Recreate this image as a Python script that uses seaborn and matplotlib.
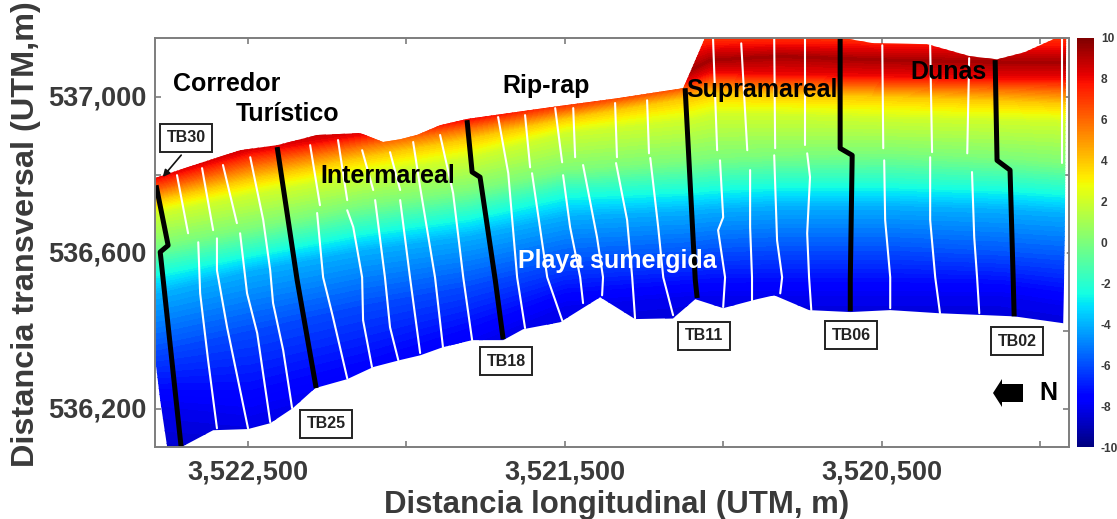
"""
Beach elevation map with survey transects (seaborn + matplotlib)
"""

import numpy as np
import pandas as pd
import seaborn as sns
import matplotlib.pyplot as plt
from matplotlib.cm import ScalarMappable
from matplotlib.colors import Normalize
from matplotlib.patches import Polygon, FancyArrow
from matplotlib.transforms import ScaledTranslation

sns.set_theme(style="white")
plt.rcParams["font.family"] = ["Liberation Sans", "DejaVu Sans"]
plt.rcParams["font.weight"] = "bold"
plt.rcParams["axes.unicode_minus"] = False

# ====================================================================================================================
# Data: everything in metres, as offsets from these UTM origins
# ====================================================================================================================

X0 = 3520000
Y0 = 536000

# survey limit
outline_x = [2795, 2650, 2524, 2407, 2281, 2145, 2073, 2019, 1966, 1893, 1808, 1546, 1335, 1126, 1057, 631, 524, 357,
             221, 136, 50, -54, -82, -76, 82, 319, 473, 599, 729, 839, 893, 1000, 1088, 1158, 1278, 1388, 1514, 1631,
             1694, 1792, 1884, 1956, 2019, 2104, 2186, 2287, 2357, 2429, 2499, 2609, 2704, 2754, 2776, 2795]
outline_y = [792, 831, 864, 877, 903, 908, 885, 892, 903, 928, 944, 974, 997, 1023, 1153, 1153, 1138, 1136,
             1105, 1097, 1115, 1153, 1153, 420, 438, 446, 454, 449, 454, 492, 482, 459, 482, 433, 431, 487, 423, 405,
             377, 377, 359, 338, 326, 308, 277, 254, 203, 164, 149, 146, 105, 103, 223, 351]

# alongshore stations where the elevation lines were read
station_x = [2792, 2493, 2145, 1800, 1500, 1104, 1041, 820, 473, 126, -79]

# northing of each elevation line at the stations, from landward to seaward
line_elevation = [7, 9.3, 8, 6, 4, 2, 0, -2, -4, -6, -8, -10]
line_top = [1153, 1153, 1153, 1153, 1153, 1153, 1153, 1153, 1153, 1153, 1153]
line_crest = [826, 890, 941, 979, 1023, 1069, 1095, 1105, 1095, 1090, 1090]
line_p8 = [792, 859, 903, 946, 992, 1044, 1064, 1059, 1054, 1049, 1049]
line_p6 = [762, 826, 877, 923, 967, 1023, 1038, 1033, 1028, 1023, 1018]
line_p4 = [736, 792, 846, 895, 946, 1000, 1013, 1008, 1002, 992, 985]
line_p2 = [700, 749, 800, 844, 908, 941, 954, 954, 946, 941, 936]
line_0 = [620, 664, 723, 762, 813, 838, 844, 851, 856, 844, 831]
line_m2 = [562, 608, 664, 705, 762, 774, 779, 787, 787, 779, 769]
line_m4 = [497, 556, 608, 646, 697, 710, 715, 723, 723, 715, 705]
line_m6 = [351, 403, 467, 518, 577, 595, 603, 608, 608, 595, 582]
line_m8 = [210, 184, 261, 364, 466, 492, 492, 492, 492, 492, 466]
line_m10 = [-110, -110, -33, 44, 146, 223, 223, 223, 223, 223, 197]

# labelled transects
black_names = ["TB30", "TB25", "TB18", "TB11", "TB06", "TB02"]
black_x = [[2789, 2751, 2776, 2710], [2407, 2344, 2284], [1808, 1792, 1767, 1719, 1694],
           [1120, 1098, 1088, 1082], [631, 631, 593, 599, 599], [142, 136, 95, 85, 82]]
black_y = [[774, 620, 603, 103], [872, 531, 254], [941, 808, 795, 531, 379],
           [1023, 685, 531, 485], [1151, 869, 851, 531, 451], [1095, 838, 813, 531, 438]]

# other transects, each one made of one or two pieces
white_x = [[[2723, 2688], [2656, 2650, 2625, 2597]],
           [[2644, 2609], [2597, 2597, 2565, 2499]],
           [[2578, 2534], [2524, 2502, 2470, 2429]],
           [[2492, 2451, 2429, 2420, 2388, 2360]],
           [[2303, 2272], [2281, 2262, 2231, 2186]],
           [[2215, 2186], [2186, 2167, 2139, 2136, 2108]],
           [[2139, 2104], [2098, 2067, 2051, 2025]],
           [[2051, 2019], [2019, 1988, 1956]],
           [[1978, 1956, 1909, 1884]],
           [[1893, 1852, 1820, 1792]],
           [[1710, 1678, 1650, 1625]],
           [[1625, 1609], [1603, 1555, 1508]],
           [[1530, 1508], [1505, 1483, 1451, 1442]],
           [[1473, 1467], [1442, 1398, 1379, 1382]],
           [[1341, 1335], [1338, 1303, 1287, 1278]],
           [[1240, 1234], [1230, 1205, 1189, 1158]],
           [[1032, 1019], [1010, 1000, 1016, 994, 1000]],
           [[943, 924], [915, 915, 909, 909]],
           [[839, 836], [839, 830, 814, 820]],
           [[741, 741], [735, 726, 735, 729, 722]],
           [[498, 495], [492, 489, 473, 473]],
           [[347, 341], [347, 347, 331, 316]],
           [[224, 230], [215, 208, 199, 192]],
           [[-69, -69], [-85, -79, -76]]]
white_y = [[[800, 651], [628, 497, 326, 151]],
           [[818, 659], [638, 556, 410, 151]],
           [[826, 677], [651, 497, 395, 167]],
           [[846, 685, 556, 472, 351, 203]],
           [[877, 723], [703, 538, 436, 279]],
           [[890, 736], [710, 667, 538, 428, 308]],
           [[864, 762], [736, 538, 410, 326]],
           [[859, 762], [736, 538, 344]],
           [[885, 769, 538, 359]],
           [[903, 754, 538, 377]],
           [[949, 805, 538, 408]],
           [[954, 820], [805, 538, 428]],
           [[972, 833], [800, 667, 538, 472]],
           [[972, 846], [826, 641, 538, 492]],
           [[985, 846], [831, 685, 538, 433]],
           [[992, 856], [844, 667, 538, 441]],
           [[1151, 864], [838, 692, 659, 538, 462]],
           [[1138, 864], [813, 667, 538, 479]],
           [[1151, 869], [851, 633, 538, 497]],
           [[1151, 877], [856, 795, 651, 538, 454]],
           [[1133, 869], [838, 685, 538, 459]],
           [[1133, 859], [846, 685, 538, 446]],
           [[1100, 856], [808, 641, 538, 446]],
           [[1151, 831], [769, 538, 420]]]

x_ticks = [3522500, 3522000, 3521500, 3521000, 3520500, 3520000]
x_labels = ["3,522,500", "", "3,521,500", "", "3,520,500", ""]
y_ticks = [536200, 536400, 536600, 536800, 537000]
y_labels = ["536,200", "", "536,600", "", "537,000"]
bar_ticks = [-10, -8, -6, -4, -2, 0, 2, 4, 6, 8, 10]

# ====================================================================================================================
# Figure
# ====================================================================================================================

W, H = 1117, 519
TICK_GREY = "#7d7d7d"
TEXT_GREY = "#3a3a3a"


def fig_xy(px, py):
    # pixel position on the picture to figure fraction
    return px / W, 1 - py / H


def box(left, top, right, bottom):
    return [left / W, 1 - bottom / H, (right - left) / W, (bottom - top) / H]


fig = plt.figure(figsize=(W / 100, H / 100), dpi=100)
ax = fig.add_axes(box(154.5, 37.5, 1069, 447))
cax = fig.add_axes(box(1077, 38, 1094, 447))

# elevation field built from the lines read at the stations
lines = np.array([line_top, line_crest, line_p8, line_p6, line_p4, line_p2, line_0,
                  line_m2, line_m4, line_m6, line_m8, line_m10], dtype=float)
grid_x = np.linspace(-100, 2800, 500)
grid_y = np.linspace(90, 1160, 500)
field = np.zeros((grid_y.size, grid_x.size))
station_order = np.argsort(station_x)
for j, x in enumerate(grid_x):
    ys = [np.interp(x, np.array(station_x)[station_order], row[station_order]) for row in lines]
    field[:, j] = np.interp(grid_y, ys[::-1], line_elevation[::-1])

cmap = plt.get_cmap("jet")
norm = Normalize(-10, 10)
cs = ax.contourf(grid_x + X0, grid_y + Y0, field, levels=np.linspace(-10, 10, 101), cmap=cmap, norm=norm, extend="both")
limit = Polygon(np.column_stack([np.array(outline_x) + X0, np.array(outline_y) + Y0]), closed=True,
                transform=ax.transData, facecolor="none", edgecolor="none")
ax.add_patch(limit)
cs.set_clip_path(limit)

# transects as long-form tables
white_rows = []
for i, (xs, ys) in enumerate(zip(white_x, white_y)):
    for k, (part_x, part_y) in enumerate(zip(xs, ys)):
        white_rows += [(f"{i}-{k}", a + X0, b + Y0) for a, b in zip(part_x, part_y)]
white_df = pd.DataFrame(white_rows, columns=["piece", "x", "y"])
black_rows = []
for name, xs, ys in zip(black_names, black_x, black_y):
    black_rows += [(name, a + X0, b + Y0) for a, b in zip(xs, ys)]
black_df = pd.DataFrame(black_rows, columns=["transect", "x", "y"])

sns.lineplot(data=white_df, x="x", y="y", units="piece", estimator=None, sort=False, color="white",
             linewidth=1.5, ax=ax, legend=False)
sns.lineplot(data=black_df, x="x", y="y", units="transect", estimator=None, sort=False, color="black",
             linewidth=3.6, ax=ax, legend=False, solid_capstyle="butt")

ax.set_xlim(3522794, 3519909)
ax.set_ylim(536103, 537153)
ax.set_xticks(x_ticks, x_labels)
ax.set_yticks(y_ticks, y_labels)
ax.set_xlabel("")
ax.set_ylabel("")
ax.tick_params(axis="both", direction="in", length=4, width=1.2, color=TICK_GREY, labelcolor=TEXT_GREY,
               labelsize=19.5, top=True, right=True, bottom=True, left=True)
ax.tick_params(axis="x", pad=9)
ax.tick_params(axis="y", pad=6)
for label in ax.get_yticklabels():
    label.set_transform(label.get_transform() + ScaledTranslation(0, 2 / 100, fig.dpi_scale_trans))
for spine in ax.spines.values():
    spine.set_color(TICK_GREY)
    spine.set_linewidth(1.4)

# colour bar
fig.colorbar(ScalarMappable(norm=norm, cmap=cmap), cax=cax, ticks=bar_ticks)
cax.tick_params(length=0, labelsize=8.6, labelcolor=TEXT_GREY, pad=5)
cax.yaxis.set_major_formatter(lambda v, pos: f"{v:.0f}")
cax.spines["outline"].set_visible(False)

# titles of the axes
fig.text(*fig_xy(617, 505), "Distancia longitudinal (UTM, m)", ha="center", va="center", fontsize=22.4, color=TEXT_GREY)
fig.text(*fig_xy(26, 234.5), "Distancia transversal (UTM,m)", ha="center", va="center", rotation=90,
         fontsize=23.4, color=TEXT_GREY)

# zone names
zones = [("Corredor", 227, 84, "black"), ("Turístico", 288, 114, "black"), ("Rip-rap", 546, 86, "black"),
         ("Intermareal", 388, 176, "black"), ("Supramareal", 762, 90, "black"), ("Dunas", 949, 72, "black"),
         ("Playa sumergida", 617, 261, "white"), ("N", 1048, 393, "black")]
for label, px, py, colour in zones:
    fig.text(*fig_xy(px, py), label, ha="center", va="center", fontsize=18, color=colour, zorder=10)

# transect tags
tags = [("TB30", 186, 138), ("TB25", 326, 424), ("TB18", 506, 361), ("TB11", 704, 336), ("TB06", 851, 335),
        ("TB02", 1017, 341)]
for label, px, py in tags:
    fig.text(*fig_xy(px, py), label, ha="center", va="center", fontsize=11.5, color="#222222", zorder=10,
             bbox=dict(boxstyle="square,pad=0.4", facecolor="white", edgecolor="#222222", linewidth=1.4))

ax.annotate("", xy=fig_xy(161, 179), xytext=fig_xy(183, 153), xycoords="figure fraction",
            textcoords="figure fraction", annotation_clip=False,
            arrowprops=dict(arrowstyle="-|>", color="#111111", linewidth=1.2, mutation_scale=10))

# north arrow
start = fig_xy(1023, 393)
end = fig_xy(993, 393)
fig.add_artist(FancyArrow(start[0], start[1], end[0] - start[0], 0, width=18 / H, head_width=28 / H,
                          head_length=9 / W, length_includes_head=True, color="black", linewidth=0,
                          transform=fig.transFigure))

fig.savefig("out.png", dpi=100)
